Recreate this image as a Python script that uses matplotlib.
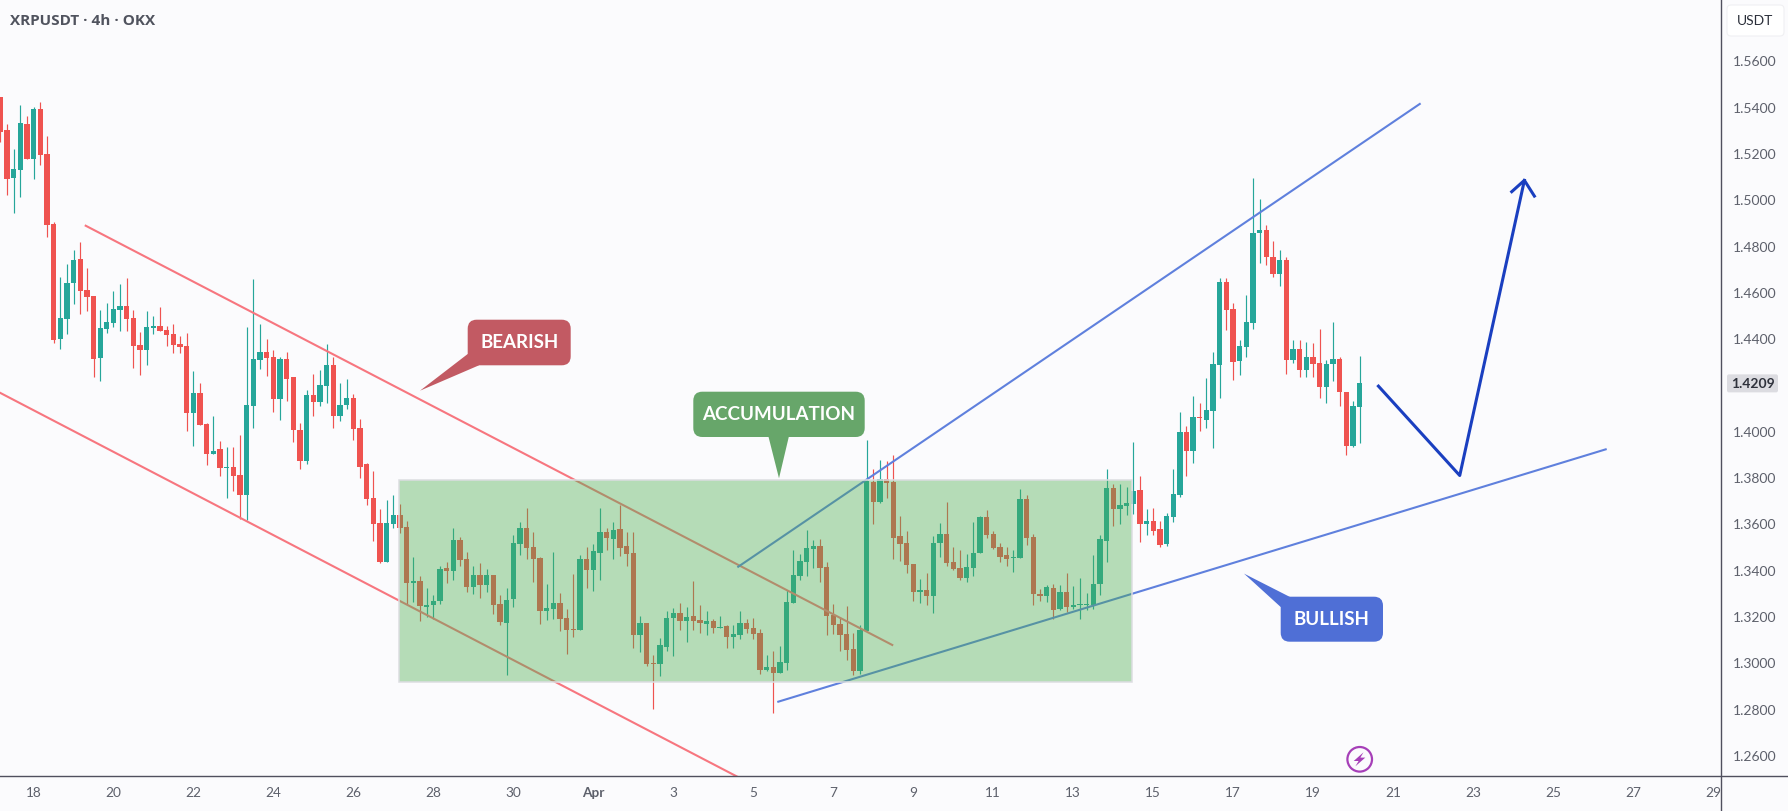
import matplotlib
matplotlib.use("Agg")
import matplotlib.pyplot as plt
import numpy as np

from matplotlib.lines import Line2D
from matplotlib.patches import Circle, FancyBboxPatch, Polygon, Rectangle
from matplotlib.transforms import Affine2D

W = 1788
H = 811
AXIS_X = 1721
AXIS_Y = 776

BG = "#fbfbfd"
UP = "#26a69a"
DOWN = "#ef5350"
AXIS_COLOR = "#50505e"
TICK_COLOR = "#5d606b"

# 4h candles, oldest first
opens = [
    1.5447, 1.5303, 1.5096, 1.5130, 1.5329, 1.5178, 1.5394, 1.5199, 1.4897, 1.4400,
    1.4487, 1.4642, 1.4746, 1.4612, 1.4586, 1.4319, 1.4444, 1.4470, 1.4526, 1.4543,
    1.4491, 1.4375, 1.4353, 1.4448, 1.4457, 1.4440, 1.4422, 1.4379, 1.4370, 1.4081,
    1.4167, 1.4034, 1.3904, 1.3925, 1.3843, 1.3848, 1.3813, 1.3727, 1.4111, 1.4310,
    1.4345, 1.4323, 1.4142, 1.4314, 1.4237, 1.4008, 1.3874, 1.4159, 1.4129, 1.4198,
    1.4288, 1.4068, 1.4116, 1.4146, 1.4016, 1.3861, 1.3714, 1.3606, 1.3437, 1.3602,
    1.3640, 1.3589, 1.3347, 1.3355, 1.3243, 1.3252, 1.3269, 1.3411, 1.3398, 1.3532,
    1.3450, 1.3329, 1.3381, 1.3338, 1.3381, 1.3256, 1.3174, 1.3278, 1.3515, 1.3584,
    1.3502, 1.3455, 1.3226, 1.3234, 1.3260, 1.3195, 1.3148, 1.3144, 1.3450, 1.3403,
    1.3476, 1.3567, 1.3537, 1.3580, 1.3506, 1.3476, 1.3122, 1.3174, 1.3001, 1.2997,
    1.3070, 1.3195, 1.3217, 1.3182, 1.3204, 1.3187, 1.3170, 1.3182, 1.3152, 1.3161,
    1.3113, 1.3122, 1.3174, 1.3152, 1.3131, 1.2971, 1.2984, 1.2958, 1.3001, 1.3260,
    1.3377, 1.3438, 1.3494, 1.3507, 1.3416, 1.3209, 1.3170, 1.3127, 1.3062, 1.2967,
    1.3139, 1.3783, 1.3697, 1.3796, 1.3783, 1.3550, 1.3520, 1.3429, 1.3308, 1.3317,
    1.3291, 1.3520, 1.3559, 1.3438, 1.3412, 1.3368, 1.3412, 1.3476, 1.3632, 1.3559,
    1.3502, 1.3468, 1.3455, 1.3455, 1.3710, 1.3546, 1.3299, 1.3291, 1.3325, 1.3235,
    1.3308, 1.3243, 1.3252, 1.3252, 1.3252, 1.3343, 1.3528, 1.3757, 1.3667, 1.3680,
    1.3688, 1.3748, 1.3602, 1.3614, 1.3580, 1.3515, 1.3632, 1.3727, 1.3999, 1.3917,
    1.4064, 1.4051, 1.4090, 1.4288, 1.4647, 1.4530, 1.4306, 1.4366, 1.4470, 1.4859,
    1.4872, 1.4755, 1.4682, 1.4742, 1.4310, 1.4358, 1.4267, 1.4323, 1.4297, 1.4193,
    1.4293, 1.4314, 1.4172, 1.3938, 1.4107,
]
highs = [
    1.5447, 1.5329, 1.5221, 1.5411, 1.5363, 1.5402, 1.5424, 1.5277, 1.4906, 1.4668,
    1.4724, 1.4785, 1.4819, 1.4707, 1.4586, 1.4526, 1.4556, 1.4608, 1.4638, 1.4664,
    1.4526, 1.4431, 1.4522, 1.4500, 1.4539, 1.4457, 1.4466, 1.4414, 1.4427, 1.4262,
    1.4211, 1.4038, 1.4068, 1.3960, 1.3934, 1.3934, 1.3986, 1.4453, 1.4660, 1.4466,
    1.4401, 1.4353, 1.4323, 1.4345, 1.4237, 1.4038, 1.4180, 1.4250, 1.4267, 1.4379,
    1.4323, 1.4211, 1.4228, 1.4163, 1.4055, 1.3865, 1.3830, 1.3666, 1.3705, 1.3727,
    1.3688, 1.3614, 1.3459, 1.3377, 1.3325, 1.3295, 1.3420, 1.3437, 1.3584, 1.3545,
    1.3481, 1.3420, 1.3433, 1.3407, 1.3381, 1.3295, 1.3325, 1.3554, 1.3610, 1.3671,
    1.3567, 1.3459, 1.3342, 1.3481, 1.3303, 1.3234, 1.3386, 1.3468, 1.3502, 1.3515,
    1.3671, 1.3584, 1.3610, 1.3684, 1.3567, 1.3567, 1.3204, 1.3174, 1.3036, 1.3109,
    1.3226, 1.3239, 1.3260, 1.3243, 1.3355, 1.3252, 1.3226, 1.3191, 1.3204, 1.3165,
    1.3165, 1.3226, 1.3191, 1.3195, 1.3148, 1.3036, 1.3053, 1.3074, 1.3317, 1.3489,
    1.3472, 1.3576, 1.3533, 1.3537, 1.3438, 1.3256, 1.3200, 1.3247, 1.3131, 1.3165,
    1.3965, 1.3839, 1.3878, 1.3874, 1.3900, 1.3636, 1.3571, 1.3429, 1.3364, 1.3390,
    1.3550, 1.3606, 1.3697, 1.3502, 1.3489, 1.3472, 1.3610, 1.3636, 1.3662, 1.3571,
    1.3520, 1.3502, 1.3489, 1.3753, 1.3727, 1.3559, 1.3321, 1.3338, 1.3343, 1.3338,
    1.3390, 1.3334, 1.3368, 1.3304, 1.3468, 1.3554, 1.3839, 1.3775, 1.3775, 1.3762,
    1.3956, 1.3809, 1.3666, 1.3671, 1.3614, 1.3649, 1.3839, 1.4085, 1.4025, 1.4154,
    1.4124, 1.4232, 1.4345, 1.4664, 1.4664, 1.4556, 1.4396, 1.4591, 1.5096, 1.5006,
    1.4893, 1.4824, 1.4785, 1.4755, 1.4396, 1.4396, 1.4388, 1.4383, 1.4444, 1.4310,
    1.4474, 1.4323, 1.4172, 1.4133, 1.4327,
]
lows = [
    1.5250, 1.5022, 1.4944, 1.5014, 1.5178, 1.5091, 1.5152, 1.4841, 1.4383, 1.4357,
    1.4422, 1.4551, 1.4508, 1.4521, 1.4237, 1.4219, 1.4427, 1.4453, 1.4435, 1.4435,
    1.4275, 1.4245, 1.4288, 1.4422, 1.4435, 1.4370, 1.4340, 1.4340, 1.4003, 1.3938,
    1.4029, 1.3856, 1.3904, 1.3809, 1.3714, 1.3744, 1.3623, 1.3619, 1.4016, 1.4271,
    1.4241, 1.4085, 1.4051, 1.4133, 1.3956, 1.3839, 1.3861, 1.4068, 1.4111, 1.4124,
    1.4016, 1.4046, 1.4098, 1.3964, 1.3800, 1.3684, 1.3528, 1.3433, 1.3437, 1.3584,
    1.3563, 1.3256, 1.3265, 1.3182, 1.3200, 1.3191, 1.3256, 1.3347, 1.3360, 1.3420,
    1.3308, 1.3299, 1.3282, 1.3308, 1.3213, 1.3165, 1.2949, 1.3243, 1.3468, 1.3450,
    1.3351, 1.3170, 1.3187, 1.3191, 1.3139, 1.3040, 1.3113, 1.3144, 1.3325, 1.3312,
    1.3360, 1.3489, 1.3450, 1.3463, 1.3420, 1.3066, 1.3049, 1.2988, 1.2802, 1.2945,
    1.3053, 1.3031, 1.3144, 1.3092, 1.3144, 1.3131, 1.3122, 1.3131, 1.3152, 1.3066,
    1.3066, 1.3105, 1.3131, 1.3105, 1.2954, 1.2966, 1.2785, 1.2958, 1.2971, 1.3260,
    1.3360, 1.3377, 1.3412, 1.3351, 1.3122, 1.3127, 1.3053, 1.3014, 1.2949, 1.2954,
    1.3139, 1.3602, 1.3692, 1.3714, 1.3451, 1.3442, 1.3390, 1.3269, 1.3260, 1.3252,
    1.3217, 1.3459, 1.3420, 1.3403, 1.3360, 1.3351, 1.3377, 1.3476, 1.3541, 1.3494,
    1.3438, 1.3420, 1.3394, 1.3455, 1.3511, 1.3252, 1.3269, 1.3265, 1.3191, 1.3230,
    1.3222, 1.3235, 1.3191, 1.3230, 1.3235, 1.3295, 1.3438, 1.3593, 1.3602, 1.3641,
    1.3645, 1.3524, 1.3554, 1.3554, 1.3502, 1.3506, 1.3610, 1.3718, 1.3809, 1.3865,
    1.4003, 1.4016, 1.3930, 1.4146, 1.4440, 1.4224, 1.4245, 1.4323, 1.4444, 1.4729,
    1.4720, 1.4669, 1.4630, 1.4250, 1.4297, 1.4237, 1.4237, 1.4237, 1.4146, 1.4124,
    1.4219, 1.4111, 1.3900, 1.3934, 1.3951,
]
closes = [
    1.5296, 1.5091, 1.5135, 1.5333, 1.5178, 1.5394, 1.5195, 1.4893, 1.4396, 1.4491,
    1.4642, 1.4741, 1.4607, 1.4582, 1.4314, 1.4448, 1.4474, 1.4530, 1.4543, 1.4487,
    1.4370, 1.4353, 1.4453, 1.4457, 1.4435, 1.4418, 1.4375, 1.4366, 1.4081, 1.4167,
    1.4029, 1.3904, 1.3917, 1.3843, 1.3848, 1.3809, 1.3727, 1.4116, 1.4314, 1.4345,
    1.4319, 1.4142, 1.4314, 1.4228, 1.4008, 1.3874, 1.4159, 1.4129, 1.4202, 1.4288,
    1.4068, 1.4116, 1.4146, 1.4012, 1.3848, 1.3710, 1.3602, 1.3437, 1.3606, 1.3640,
    1.3584, 1.3347, 1.3355, 1.3247, 1.3252, 1.3269, 1.3407, 1.3398, 1.3532, 1.3446,
    1.3329, 1.3381, 1.3338, 1.3381, 1.3252, 1.3178, 1.3273, 1.3519, 1.3584, 1.3498,
    1.3450, 1.3226, 1.3239, 1.3260, 1.3191, 1.3144, 1.3144, 1.3450, 1.3403, 1.3485,
    1.3567, 1.3541, 1.3576, 1.3498, 1.3472, 1.3122, 1.3174, 1.2997, 1.2997, 1.3079,
    1.3195, 1.3217, 1.3182, 1.3200, 1.3182, 1.3174, 1.3182, 1.3152, 1.3157, 1.3113,
    1.3126, 1.3174, 1.3148, 1.3126, 1.2971, 1.2984, 1.2958, 1.3005, 1.3265, 1.3381,
    1.3442, 1.3498, 1.3507, 1.3412, 1.3204, 1.3165, 1.3122, 1.3057, 1.2967, 1.3144,
    1.3787, 1.3697, 1.3796, 1.3779, 1.3541, 1.3515, 1.3425, 1.3308, 1.3317, 1.3291,
    1.3520, 1.3559, 1.3433, 1.3407, 1.3368, 1.3416, 1.3476, 1.3632, 1.3554, 1.3498,
    1.3459, 1.3451, 1.3459, 1.3710, 1.3541, 1.3299, 1.3291, 1.3330, 1.3230, 1.3308,
    1.3243, 1.3252, 1.3256, 1.3256, 1.3343, 1.3537, 1.3757, 1.3667, 1.3684, 1.3692,
    1.3744, 1.3602, 1.3614, 1.3571, 1.3511, 1.3636, 1.3731, 1.3999, 1.3917, 1.4064,
    1.4059, 1.4094, 1.4293, 1.4647, 1.4526, 1.4301, 1.4370, 1.4474, 1.4859, 1.4872,
    1.4755, 1.4682, 1.4742, 1.4310, 1.4358, 1.4267, 1.4323, 1.4293, 1.4193, 1.4293,
    1.4314, 1.4172, 1.3938, 1.4111, 1.4209,
]

last_price = 1.4209
price_ticks = [1.26, 1.28, 1.30, 1.32, 1.34, 1.36, 1.38, 1.40,
               1.44, 1.46, 1.48, 1.50, 1.52, 1.54, 1.56]

# bar number of each date label, six 4h bars to a day
date_bars = [5, 17, 29, 41, 53, 65, 77, 89, 101, 113, 125, 137, 149, 161,
             173, 185, 197, 209, 221, 233, 245, 257]
date_labels = ["18", "20", "22", "24", "26", "28", "30", "Apr", "3", "5", "7",
               "9", "11", "13", "15", "17", "19", "21", "23", "25", "27", "29"]

# drawings, as (bar, price)
channel_top = ([12.83, 133.85], [1.4890, 1.3079])
channel_bottom = ([0, 115], [1.4168, 1.2444])
rising_top = ([110.74, 213.0], [1.3417, 1.5416])
rising_bottom = ([116.75, 240.9], [1.2834, 1.3924])
forecast = ([206.8, 219.0, 228.7], [1.4197, 1.3811, 1.5086])
forecast_head = ([226.8, 228.7, 230.2], [1.5037, 1.5086, 1.5018])
range_bars = (59.9, 169.86)
range_prices = (1.2920, 1.3791)


def DrawCallout(fig, trans, box, tail, text, color):
    x0, y0, x1, y1 = box
    fig.add_artist(Polygon(tail, closed=True, facecolor=color, edgecolor="none",
                           transform=trans, zorder=6))
    fig.add_artist(FancyBboxPatch((x0 + 9, y0 + 9), x1 - x0 - 18, y1 - y0 - 18,
                                  boxstyle="round,pad=9,rounding_size=9",
                                  facecolor=color, edgecolor="none",
                                  transform=trans, zorder=6))
    fig.text((x0 + x1) / 2, (y0 + y1) / 2 + 0.5, text, transform=trans, color="white",
             family="Lato", weight="bold", fontsize=13.5,
             ha="center", va="center", zorder=7)


fig = plt.figure(figsize=(W / 100, H / 100), dpi=100, facecolor=BG)
ax = fig.add_axes([0, (H - AXIS_Y) / H, AXIS_X / W, AXIS_Y / H], facecolor=BG)

bars = np.arange(len(opens))
opens = np.array(opens)
closes = np.array(closes)
colors = [UP if c >= o else DOWN for o, c in zip(opens, closes)]

ax.vlines(bars, lows, highs, colors=colors, linewidth=0.85, zorder=2)
ax.bar(bars, np.abs(closes - opens), bottom=np.minimum(opens, closes), width=0.8,
       color=colors, linewidth=0, zorder=2.1)

for line in (channel_top, channel_bottom):
    ax.plot(line[0], line[1], color="#f7767f", linewidth=1.5, zorder=3)
for line in (rising_top, rising_bottom):
    ax.plot(line[0], line[1], color="#5f80dd", linewidth=1.5, zorder=3)
ax.plot(forecast[0], forecast[1], color="#1a3fc0", linewidth=2.2, zorder=3)
ax.plot(forecast_head[0], forecast_head[1], color="#1a3fc0", linewidth=2.2, zorder=3)

ax.add_patch(Rectangle((range_bars[0], range_prices[0]),
                       range_bars[1] - range_bars[0], range_prices[1] - range_prices[0],
                       facecolor="#4caf50", alpha=0.4, edgecolor="none", zorder=4))
ax.add_patch(Rectangle((range_bars[0], range_prices[0]),
                       range_bars[1] - range_bars[0], range_prices[1] - range_prices[0],
                       facecolor="none", edgecolor="#dcdde1", linewidth=1.1, zorder=4.1))

ax.set_xlim(-0.03, 258.2)
ax.set_ylim(1.2513, 1.5865)

for name in ax.spines:
    ax.spines[name].set_visible(False)

ax.yaxis.tick_right()
ax.set_yticks(price_ticks)
ax.set_yticklabels(["%.4f" % p for p in price_ticks], family="Lato", fontsize=10,
                   color=TICK_COLOR)
ax.set_xticks(date_bars)
ax.set_xticklabels(date_labels, family="Lato", fontsize=9.8, color=TICK_COLOR)
ax.tick_params(axis="y", length=0, pad=8.5)
ax.tick_params(axis="x", length=0, pad=8)
for label in ax.get_xticklabels():
    if label.get_text() == "Apr":
        label.set_fontweight("bold")

# everything below sits on top of the chart, placed in screen pixels from the top left
trans = Affine2D().scale(1, -1).translate(0, H)

fig.add_artist(Line2D([AXIS_X, AXIS_X], [0, H], color=AXIS_COLOR, linewidth=1, transform=trans))
fig.add_artist(Line2D([0, W], [AXIS_Y, AXIS_Y], color=AXIS_COLOR, linewidth=1, transform=trans))

fig.text(10, 21, "XRPUSDT · 4h · OKX", transform=trans, family="Open Sans", weight="bold",
         fontsize=11, color="#50535e", ha="left", va="center")

# unit button
fig.add_artist(FancyBboxPatch((1731, 9), 49, 23, boxstyle="round,pad=4,rounding_size=4",
                              facecolor="white", edgecolor="#f0f0f3", linewidth=0.8,
                              transform=trans))
fig.text(1755.5, 21, "USDT", transform=trans, family="Lato", fontsize=10, color="#2a2e39",
         ha="center", va="center")

# last price tag
last_y = H - ax.transData.transform((0, last_price))[1]
fig.add_artist(FancyBboxPatch((1729, last_y - 7), 47, 14, boxstyle="round,pad=2,rounding_size=2",
                              facecolor="#dcdce1", edgecolor="none", transform=trans))
fig.text(1752.5, last_y + 0.5, "%.4f" % last_price, transform=trans, family="Lato", weight="bold",
         fontsize=10, color="#2f323c", ha="center", va="center")

DrawCallout(fig, trans, (467.7, 319.7, 570.7, 365.3),
            [(467.7, 354), (420, 390.7), (479, 365.3)], "BEARISH", "#c25a63")
DrawCallout(fig, trans, (693.3, 391.7, 864.7, 437),
            [(768.3, 436), (779, 478.3), (789, 436)], "ACCUMULATION", "#67a66a")
DrawCallout(fig, trans, (1280.7, 596.7, 1383, 641.7),
            [(1280.7, 607), (1244, 573.6), (1291, 597.5)], "BULLISH", "#4f6fd6")

# purple bolt badge
fig.add_artist(Circle((1359.7, 759.3), 12.3, facecolor="none", edgecolor="#a63fb8",
                      linewidth=1.6, transform=trans))
fig.add_artist(Polygon([(1363.5, 752.3), (1353.7, 761), (1358.6, 761), (1355.4, 766.3),
                        (1365.3, 757.6), (1360.4, 757.6)], closed=True, facecolor="#a63fb8",
                       edgecolor="none", transform=trans))

fig.savefig("out.png", dpi=100, facecolor=BG)
